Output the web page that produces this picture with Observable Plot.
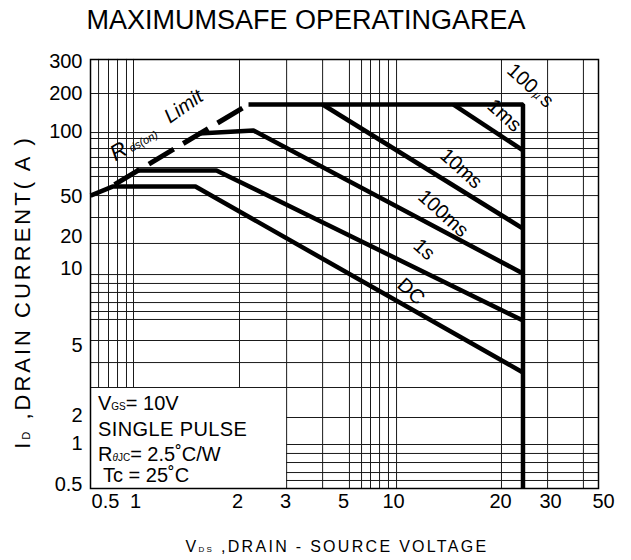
<!DOCTYPE html>
<html><head><meta charset="utf-8">
<script src="https://cdn.jsdelivr.net/npm/d3@7"></script>
<script src="https://cdn.jsdelivr.net/npm/@observablehq/plot@0.6"></script>
<style>
body{margin:0;background:#fff;font-family:"Liberation Sans",Arial,sans-serif;overflow:hidden}
#wrap{position:relative;width:631px;height:560px}
#wrap svg{position:absolute;left:0;top:0}
.t{position:absolute;white-space:pre;line-height:1;color:#000;font-family:"Liberation Sans",Arial,sans-serif}
.lg{line-height:17px}
.sub{font-size:0.5em}
</style></head><body><div id="wrap"></div>
<script>
// ---- tick labels ----
const xTicks = [0.5, 1, 2, 3, 5, 10, 20, 30, 50];
const yTicks = [0.5, 1, 2, 5, 10, 20, 50, 100, 200, 300];

// ---- SOA curves (V_DS in V, I_D in A) ----
const dcV = [0.354, 0.588, 1.503, 24];      const dcI = [50.5, 55.6, 55.6, 3.51];
const s1V = [1.007, 1.734, 24];             const s1I = [66, 66, 6.26];
const ms100V = [1.535, 2.289, 24];          const ms100I = [97.9, 101.8, 9.56];
const ms10V = [4.16, 24];                   const ms10I = [163.6, 24.0];
const ms1V = [14.75, 24];                   const ms1I = [163.6, 81.7];
const us100V = [2.195, 24, 24];             const us100I = [163.6, 163.6, 0.467];
const rdsV = [0.616, 2.195];                const rdsI = [56.8, 163.6];

// ---- curve labels ----
const labelText = ["100µs", "1ms", "10ms", "100ms", "1s", "DC"];
const labelV = [25.5, 20.65, 15.5, 13.8, 12.2, 11.2];
const labelI = [221, 134, 67.4, 33.9, 15.1, 8.13];
const rdsText = ["R", "ds(on)", "Limit"];
const rdsTextV = [0.675, 1.056, 1.386];
const rdsTextI = [80.8, 89.9, 157.8];

// ---- grid lines (values) ----
const gridXFull = [3.03, 4.16, 5.43, 6.42, 7.27, 8.24, 9.33, 10.2, 20.16, 29.3, 41.2];
const gridXUpper = [0.426, 0.536, 0.66, 0.812, 0.955, 2.034];
const gridYFull = [200, 98.9, 92.8, 83.4, 75.8, 68.1, 61.9, 50.5, 30.9, 17.2, 9.47, 8.74, 8.06, 7.36, 6.79, 6.32, 5.23, 4.0, 2.885];
const gridYRight = [1.903, 0.983, 0.845, 0.725, 0.612, 0.535];
const boxTopI = 2.885, boxRightV = 3.03, vRight = 47.6, iTop = 308;

const rows = (name, V, I) => V.map((v, k) => ({curve: name, v, i: I[k]}));
const curves = [
  ...rows("DC", dcV, dcI), ...rows("1s", s1V, s1I), ...rows("100ms", ms100V, ms100I),
  ...rows("10ms", ms10V, ms10I), ...rows("1ms", ms1V, ms1I), ...rows("100us", us100V, us100I)
];
const rds = rows("rds", rdsV, rdsI);
const labels = labelText.map((t, k) => ({t, v: labelV[k], i: labelI[k]}));
const rdsLabels = rdsText.map((t, k) => ({t, v: rdsTextV[k], i: rdsTextI[k]}));

const grid = {stroke: "#1a1a1a", strokeWidth: 1};
const plot = Plot.plot({
  width: 631, height: 560,
  marginLeft: 90, marginRight: 33, marginTop: 59, marginBottom: 72,
  style: {fontFamily: "Liberation Sans, Arial, sans-serif", background: "white", color: "black"},
  x: {type: "log", domain: xTicks, range: [105, 135, 237, 285, 343, 393, 500, 550, 603], axis: null},
  y: {type: "log", domain: yTicks, range: [484, 443, 415, 345, 268, 236, 196, 131, 93, 61], axis: null},
  marks: [
    Plot.ruleX(gridXFull, grid),
    Plot.ruleX(gridXUpper, {...grid, y1: () => boxTopI, y2: () => iTop}),
    Plot.ruleY(gridYFull, grid),
    Plot.ruleY(gridYRight, {...grid, x1: () => boxRightV, x2: () => vRight}),
    Plot.line(curves, {x: "v", y: "i", z: "curve", stroke: "black", strokeWidth: 4.5, strokeLinecap: "butt", strokeLinejoin: "miter"}),
    Plot.line(rds, {x: "v", y: "i", stroke: "black", strokeWidth: 5, strokeDasharray: "29,11", strokeLinecap: "butt"}),
    Plot.frame({stroke: "black", strokeWidth: 1.5}),
    Plot.text(xTicks, {x: d => d, frameAnchor: "bottom", dy: 19, text: d => String(d), fontSize: 20, fill: "black"}),
    Plot.text(yTicks, {y: d => d, frameAnchor: "left", dx: -8, textAnchor: "end", text: d => String(d), fontSize: 20, fill: "black"}),
    Plot.text(labels, {x: "v", y: "i", text: "t", rotate: 42, fontSize: 20, fill: "black"}),
    Plot.text(rdsLabels.filter(d => d.t === "R"), {x: "v", y: "i", text: "t", rotate: -30, fontSize: 22, fontStyle: "italic", fill: "black"}),
    Plot.text(rdsLabels.filter(d => d.t === "ds(on)"), {x: "v", y: "i", text: "t", rotate: -30, fontSize: 11, fontStyle: "italic", fill: "black"}),
    Plot.text(rdsLabels.filter(d => d.t === "Limit"), {x: "v", y: "i", text: "t", rotate: -35, fontSize: 20, fontStyle: "italic", fill: "black"})
  ]
});
// small µ in the 100µs label, as in the reference
d3.select(plot).selectAll("text").filter(function() { return this.textContent === "100µs"; })
  .each(function() { this.innerHTML = '100<tspan font-size="11" font-style="italic" dx="2">µ</tspan><tspan dx="3">s</tspan>'; });

const wrap = document.getElementById("wrap");
wrap.appendChild(plot);

function addText(html, css, cls) {
  const d = document.createElement("div");
  d.className = "t" + (cls ? " " + cls : "");
  d.innerHTML = html;
  Object.assign(d.style, css);
  wrap.appendChild(d);
}
addText("MAXIMUMSAFE OPERATINGAREA", {left: "306px", top: "7px", fontSize: "27px", transform: "translateX(-50%)"});
addText('V<span class="sub">DS</span> ,DRAIN - SOURCE VOLTAGE', {left: "337px", top: "539px", fontSize: "16px", letterSpacing: "2.3px", transform: "translateX(-50%)"});
addText('I<span class="sub">D</span> ,DRAIN CURRENT( A )', {left: "23px", top: "292px", fontSize: "22px", letterSpacing: "3px", transform: "translate(-50%,-50%) rotate(-90deg)"});
addText('V<span class="sub">GS</span>= 10V', {left: "98px", top: "395px", fontSize: "20px"}, "lg");
addText('SINGLE PULSE', {left: "98px", top: "421px", fontSize: "20px", letterSpacing: "0.4px"}, "lg");
addText('R<span class="sub"><i>θ</i>JC</span>= 2.5˚C/W', {left: "98px", top: "446px", fontSize: "20px"}, "lg");
addText('Tc = 25˚C', {left: "103px", top: "467px", fontSize: "20px"}, "lg");
</script></body></html>
